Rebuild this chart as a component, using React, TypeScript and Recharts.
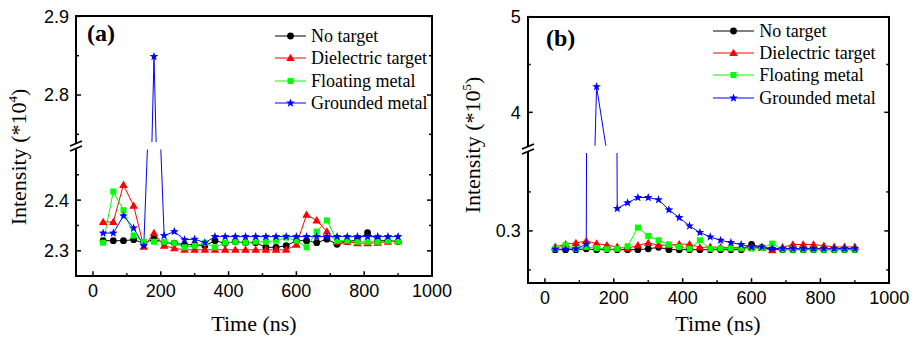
import React from "react";
import { LineChart, Line, XAxis, YAxis, Legend } from "recharts";

// time axis (ns)
const times = [30, 60, 90, 120, 150, 180, 210, 240, 270, 300, 330, 360, 390, 420, 450, 480, 510, 540, 570, 600, 630, 660, 690, 720, 750, 780, 810, 840, 870, 900];

// panel (a), intensity *10^4
const aNoTarget = [2.320, 2.320, 2.320, 2.322, 2.315, 2.323, 2.316, 2.315, 2.312, 2.312, 2.310, 2.320, 2.315, 2.318, 2.316, 2.316, 2.307, 2.307, 2.310, 2.320, 2.320, 2.316, 2.323, 2.313, 2.318, 2.322, 2.336, 2.321, 2.320, 2.318];
const aDielectric = [2.357, 2.357, 2.430, 2.389, 2.308, 2.335, 2.310, 2.305, 2.302, 2.302, 2.302, 2.302, 2.302, 2.302, 2.302, 2.302, 2.302, 2.302, 2.302, 2.312, 2.371, 2.360, 2.338, 2.318, 2.318, 2.315, 2.315, 2.316, 2.318, 2.320];
const aFloating = [2.316, 2.417, 2.380, 2.330, 2.318, 2.318, 2.318, 2.315, 2.307, 2.310, 2.316, 2.307, 2.316, 2.318, 2.316, 2.318, 2.318, 2.320, 2.326, 2.320, 2.307, 2.338, 2.360, 2.320, 2.320, 2.318, 2.318, 2.318, 2.320, 2.318];
const aGrounded = [2.335, 2.335, 2.369, 2.345, 2.310, 2.849, 2.330, 2.338, 2.322, 2.323, 2.316, 2.328, 2.328, 2.328, 2.328, 2.328, 2.328, 2.328, 2.328, 2.328, 2.328, 2.328, 2.328, 2.328, 2.328, 2.328, 2.328, 2.328, 2.328, 2.328];

// panel (b), intensity *10^5
const bNoTarget = [0.276, 0.276, 0.276, 0.277, 0.276, 0.276, 0.276, 0.276, 0.276, 0.277, 0.279, 0.276, 0.276, 0.276, 0.276, 0.276, 0.276, 0.276, 0.276, 0.2826, 0.279, 0.276, 0.276, 0.276, 0.276, 0.276, 0.276, 0.276, 0.276, 0.276];
const bDielectric = [0.2795, 0.283, 0.2846, 0.287, 0.2838, 0.2817, 0.2795, 0.2774, 0.2817, 0.2846, 0.2817, 0.2817, 0.283, 0.283, 0.2787, 0.2795, 0.279, 0.279, 0.279, 0.279, 0.278, 0.2753, 0.279, 0.2826, 0.2826, 0.2826, 0.281, 0.2795, 0.2795, 0.2795];
const bFloating = [0.277, 0.2817, 0.277, 0.2795, 0.278, 0.2765, 0.277, 0.2804, 0.3043, 0.2936, 0.288, 0.2826, 0.2795, 0.277, 0.288, 0.277, 0.2774, 0.2774, 0.2774, 0.2774, 0.278, 0.2838, 0.276, 0.276, 0.276, 0.276, 0.276, 0.276, 0.276, 0.276];
const bGrounded = [0.2765, 0.2765, 0.277, 0.283, 4.268, 3.58, 0.3287, 0.336, 0.3428, 0.3428, 0.340, 0.327, 0.317, 0.3064, 0.298, 0.2923, 0.288, 0.285, 0.2826, 0.2795, 0.2795, 0.2774, 0.2774, 0.2774, 0.2774, 0.2774, 0.2774, 0.2774, 0.2774, 0.2774];

// ticks
const xTicks = [0, 100, 200, 300, 400, 500, 600, 700, 800, 900, 1000];
const xLabels = [0, 200, 400, 600, 800, 1000];
const aUpperTicks = [2.75, 2.8, 2.85, 2.9];
const aUpperLabels = [2.8, 2.9];
const aLowerTicks = [2.3, 2.35, 2.4, 2.45];
const aLowerLabels = [2.3, 2.4];
const bUpperTicks = [4, 4.5, 5];
const bUpperLabels = [4, 5];
const bLowerTicks = [0.25, 0.3, 0.35];
const bLowerLabels = [0.3];

const SERIES = [
  { key: "none", name: "No target", color: "#000000", marker: "circle" },
  { key: "diel", name: "Dielectric target", color: "#ff0000", marker: "triangle" },
  { key: "float", name: "Floating metal", color: "#00ff00", marker: "square" },
  { key: "ground", name: "Grounded metal", color: "#0000ff", marker: "star" },
];

const SANS = "'Liberation Sans', Arial, sans-serif";
const SERIF = "'Liberation Serif', 'Times New Roman', serif";

const rowsA = times.map((t, i) => ({ t, none: aNoTarget[i], diel: aDielectric[i], float: aFloating[i], ground: aGrounded[i] }));
const rowsB = times.map((t, i) => ({ t, none: bNoTarget[i], diel: bDielectric[i], float: bFloating[i], ground: bGrounded[i] }));

function starPoints(cx: number, cy: number, R: number, r: number) {
  const pts: string[] = [];
  for (let i = 0; i < 10; i++) {
    const a = -Math.PI / 2 + (i * Math.PI) / 5;
    const rad = i % 2 === 0 ? R : r;
    pts.push(`${cx + rad * Math.cos(a)},${cy + rad * Math.sin(a)}`);
  }
  return pts.join(" ");
}

function Marker({ kind, cx, cy, color }: any) {
  if (cx == null || cy == null) return null;
  if (kind === "circle") return <circle cx={cx} cy={cy} r={3.4} fill={color} />;
  if (kind === "triangle")
    return <polygon points={`${cx},${cy - 4.3} ${cx - 4.3},${cy + 3} ${cx + 4.3},${cy + 3}`} fill={color} />;
  if (kind === "square") return <rect x={cx - 3} y={cy - 3} width={6} height={6} fill={color} />;
  return <polygon points={starPoints(cx, cy, 4.6, 1.9)} fill={color} />;
}

const near = (list: number[], v: number) => list.some((l) => Math.abs(l - v) < 1e-6);

function YTick({ x, y, payload, labels, plotW }: any) {
  const v = payload.value;
  const major = near(labels, v);
  const len = major ? 5 : 3;
  return (
    <g>
      <line x1={x} x2={x + len} y1={y} y2={y} stroke="#000" strokeWidth={1.5} />
      <line x1={x + plotW} x2={x + plotW - len} y1={y} y2={y} stroke="#000" strokeWidth={1.5} />
      {major && (
        <text x={x - 7} y={y} dy="0.36em" textAnchor="end" fontSize={18} fontFamily={SANS} fill="#000">
          {String(v)}
        </text>
      )}
    </g>
  );
}

function XTick({ x, y, payload }: any) {
  const v = payload.value;
  const major = xLabels.includes(v);
  return (
    <g>
      <line x1={x} x2={x} y1={y} y2={y - (major ? 5 : 3)} stroke="#000" strokeWidth={1.5} />
      {major && (
        <text x={x} y={y + 21} textAnchor="middle" fontSize={18} fontFamily={SANS} fill="#000">
          {v}
        </text>
      )}
    </g>
  );
}

function renderLines() {
  return SERIES.map((s) => (
    <Line
      key={s.key}
      type="linear"
      dataKey={s.key}
      name={s.name}
      stroke={s.color}
      strokeWidth={1}
      isAnimationActive={false}
      dot={(p: any) => <Marker key={`${s.key}-${p.index}`} kind={s.marker} cx={p.cx} cy={p.cy} color={s.color} />}
      activeDot={false}
    />
  ));
}

// legend keeps the series order (recharts sorts payload by name otherwise)
function makeLegend(lineW: number) {
  return () => (
    <div style={{ fontFamily: SERIF, fontSize: 18, color: "#000" }}>
      {SERIES.map((s) => (
        <div key={s.key} style={{ display: "flex", alignItems: "center", height: 22.3 }}>
          <svg width={lineW} height={12} style={{ display: "block" }}>
            <line x1={0} x2={lineW} y1={6} y2={6} stroke={s.color} strokeWidth={1} />
            <Marker kind={s.marker} cx={lineW / 2} cy={6} color={s.color} />
          </svg>
          <span style={{ marginLeft: 5, whiteSpace: "nowrap", lineHeight: "22px" }}>{s.name}</span>
        </div>
      ))}
    </div>
  );
}

function Panel({ cfg, rows }: any) {
  const yW = cfg.plotL - cfg.left;
  const rM = cfg.left + cfg.width - cfg.plotR;
  const plotW = cfg.plotR - cfg.plotL;
  const breakY = (cfg.upper.bottom + cfg.lower.top) / 2;
  return (
    <>
      <div style={{ position: "absolute", left: cfg.left, top: 0 }}>
        <LineChart width={cfg.width} height={cfg.upper.bottom} data={rows} margin={{ top: cfg.upper.top, right: rM, bottom: 0, left: 0 }}>
          <XAxis type="number" dataKey="t" domain={[-50, 1000]} allowDataOverflow hide />
          <YAxis
            type="number"
            domain={cfg.upper.domain}
            allowDataOverflow
            ticks={cfg.upper.ticks}
            interval={0}
            width={yW}
            axisLine={false}
            tickLine={false}
            tickSize={0}
            tickMargin={0}
            tick={(p: any) => <YTick {...p} labels={cfg.upper.labels} plotW={plotW} />}
          />
          {renderLines()}
          <Legend
            layout="vertical"
            align="center"
            verticalAlign="middle"
            content={makeLegend(cfg.legend.lineW)}
            wrapperStyle={{ left: cfg.legend.left, top: cfg.legend.top, width: "auto" }}
          />
        </LineChart>
      </div>
      <div style={{ position: "absolute", left: cfg.left, top: cfg.upper.bottom }}>
        <LineChart width={cfg.width} height={338 - cfg.upper.bottom} data={rows} margin={{ top: cfg.lower.top - cfg.upper.bottom, right: rM, bottom: 0, left: 0 }}>
          <XAxis
            type="number"
            dataKey="t"
            domain={[-50, 1000]}
            allowDataOverflow
            ticks={xTicks}
            interval={0}
            height={338 - cfg.lower.bottom}
            axisLine={false}
            tickLine={false}
            tickSize={0}
            tickMargin={0}
            tick={(p: any) => <XTick {...p} />}
          />
          <YAxis
            type="number"
            domain={cfg.lower.domain}
            allowDataOverflow
            ticks={cfg.lower.ticks}
            interval={0}
            width={yW}
            axisLine={false}
            tickLine={false}
            tickSize={0}
            tickMargin={0}
            tick={(p: any) => <YTick {...p} labels={cfg.lower.labels} plotW={plotW} />}
          />
          {renderLines()}
        </LineChart>
      </div>
      <div
        style={{
          position: "absolute",
          left: cfg.plotL - 1,
          top: cfg.upper.top - 1,
          width: plotW + 2,
          height: cfg.lower.bottom - cfg.upper.top + 2,
          border: "2px solid #000",
          boxSizing: "border-box",
          pointerEvents: "none",
        }}
      />
      <svg style={{ position: "absolute", left: cfg.plotL - 8, top: breakY - 8 }} width={16} height={16}>
        <polygon points="2,8 14,3 14,8 2,13" fill="#fff" />
        <line x1={2} y1={8} x2={14} y2={3} stroke="#000" strokeWidth={1.8} />
        <line x1={2} y1={13} x2={14} y2={8} stroke="#000" strokeWidth={1.8} />
      </svg>
    </>
  );
}

const panelA = {
  left: 0,
  width: 457,
  plotL: 76,
  plotR: 432,
  upper: { top: 16.4, bottom: 142.2, domain: [2.74, 2.9], ticks: aUpperTicks, labels: aUpperLabels },
  lower: { top: 149.6, bottom: 276.4, domain: [2.25, 2.5], ticks: aLowerTicks, labels: aLowerLabels },
  legend: { left: 275, top: 24.9, lineW: 31 },
};

const panelB = {
  left: 455,
  width: 460,
  plotL: 527.7,
  plotR: 889.3,
  upper: { top: 16.7, bottom: 145.8, domain: [3.65, 5], ticks: bUpperTicks, labels: bUpperLabels },
  lower: { top: 152.7, bottom: 283, domain: [0.233, 0.4], ticks: bLowerTicks, labels: bLowerLabels },
  legend: { left: 258.3, top: 19.6, lineW: 41 },
};

function YTitle({ x, y, exp }: any) {
  return (
    <text transform={`rotate(-90, ${x}, ${y})`} x={x} y={y} textAnchor="middle" fontSize={22} fontFamily={SERIF} fill="#000">
      Intensity (*10
      <tspan fontSize={13} dy={-9}>{exp}</tspan>
      <tspan dy={9}>)</tspan>
    </text>
  );
}

export default function App() {
  return (
    <div style={{ position: "absolute", left: 0, top: 0, width: 915, height: 338, background: "#fff", overflow: "hidden" }}>
      <Panel cfg={panelA} rows={rowsA} />
      <Panel cfg={panelB} rows={rowsB} />
      <svg style={{ position: "absolute", left: 0, top: 0, pointerEvents: "none" }} width={915} height={338}>
        <text x={87} y={40.5} fontSize={24} fontWeight="bold" fontFamily={SERIF}>(a)</text>
        <text x={546} y={45.5} fontSize={24} fontWeight="bold" fontFamily={SERIF}>(b)</text>
        <text x={254} y={331} textAnchor="middle" fontSize={22} fontFamily={SERIF}>Time (ns)</text>
        <text x={718} y={331} textAnchor="middle" fontSize={22} fontFamily={SERIF}>Time (ns)</text>
        <YTitle x={26} y={157} exp="4" />
        <YTitle x={480} y={145} exp="5" />
      </svg>
    </div>
  );
}
